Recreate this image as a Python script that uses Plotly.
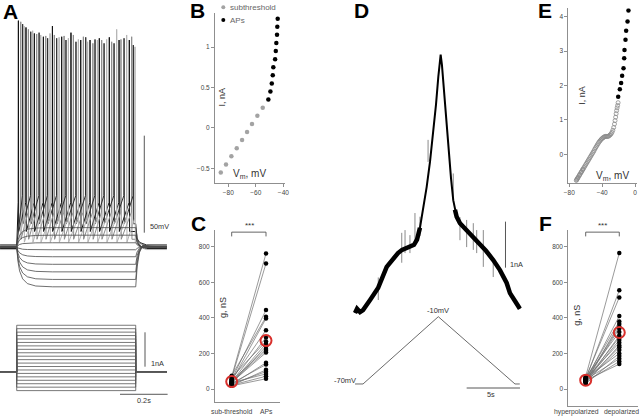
import plotly.graph_objects as go

W, H = 640, 417
FONT = "Liberation Sans, Arial, sans-serif"

# ======================= DATA =======================
# Panel B: steady-state I-V from current steps
B_sub_V = [-85.5, -81.7, -77.8, -73.9, -70.0, -66.4, -62.8, -58.9, -55.0]
B_sub_I = [-0.55, -0.45, -0.35, -0.25, -0.15, -0.05, 0.05, 0.15, 0.25]
B_ap_V = [-50.9, -49.4, -48.4, -47.7, -47.3, -46.0, -45.5, -45.1, -44.6, -44.4, -44.1]
B_ap_I = [0.35, 0.45, 0.55, 0.65, 0.75, 0.85, 0.95, 1.05, 1.15, 1.25, 1.35]

# Panel A: voltage responses (ms, mV) and current steps (nA)
A_rest = -65.0
A_t_start, A_step_on, A_step_off, A_t_end = -70, 0, 500, 631
A_charge_t = [-70, 0, 5, 12, 25, 45, 80, 150, 500, 506, 515, 530, 560, 631]
A_charge_frac = [0, 0, 0.35, 0.6, 0.8, 0.92, 0.98, 1.0, 1.0, 0.5, 0.15, -0.05, -0.02, 0]
A_spike_t = [7, 17, 25, 31, 39, 49, 59, 67, 74, 84, 94, 101, 112, 122, 130, 140, 150, 158,
             168, 178, 189, 199, 207, 217, 228, 238, 249, 259, 269, 280, 290, 298, 308, 320,
             329, 339, 347, 357, 367, 378, 389, 399, 409, 420, 430, 438, 451, 462, 473, 483,
             490, 497]
A_spike_peak = [51.7, 51.1, 49.9, 48.9, 48.2, 47.2, 46.0, 46.5, 45.1, 44.8, 45.5, 44.3, 43.4,
                43.8, 42.6, 45.1, 48.9, 44.3, 42.6, 43.1, 43.4, 43.8, 41.7, 42.6, 45.5, 44.3,
                40.8, 42.0, 41.7, 43.4, 43.1, 40.8, 41.7, 40.0, 42.0, 41.7, 42.6, 41.7, 40.0,
                42.0, 43.1, 40.8, 40.0, 47.2, 41.7, 42.0, 42.6, 44.3, 41.7, 43.4, 39.1, 38.2]
A_group_rest = [-65.8, -64.4, -63.9, -66.3]
A_group_thr = [-42.0, -47.0, -38.5, -50.0]
A_group_ahp = [-57.0, -61.0, -53.0, -62.5]
A_group_color = ["#111111", "#8c8c8c", "#2e2e2e", "#b4b4b4"]

# Panel C: conductance (nS), paired cells
C_sub = [70, 62, 55, 75, 45, 52, 40, 66, 35, 30, 48, 42, 38, 25, 32, 20, 28, 36, 22, 18]
C_ap = [762, 706, 444, 406, 397, 331, 290, 268, 255, 240, 225, 215, 205, 148, 138, 108, 98, 85, 72, 58]
C_labels = ["sub-threshold", "APs"]

# Panel D: ramp current (s, nA) and ramp command (s, mV)
D_t = [-0.75, -0.56, -0.28, 0.0, 0.66, 1.41, 2.22, 2.81, 3.28, 3.66, 4.03, 4.40, 4.78, 5.06,
       5.34, 5.62, 5.97, 6.28, 6.59, 6.84, 7.06, 7.28, 7.40, 7.53, 7.78, 7.99, 8.25, 8.46,
       8.62, 8.78, 9.09, 9.72, 10.31, 10.97, 11.53, 12.21, 12.84, 13.47, 13.78, 14.25, 14.71]
D_I = [-0.72, -0.63, -0.70, -0.66, -0.44, -0.18, 0.28, 0.47, 0.58, 0.65, 0.69, 0.71, 0.76, 0.87,
       1.13, 1.52, 2.02, 2.56, 3.19, 3.80, 4.41, 4.89, 4.67, 4.28, 3.47, 2.82, 2.21, 1.73,
       1.52, 1.37, 1.23, 1.08, 0.95, 0.76, 0.63, 0.43, 0.21, -0.07, -0.29, -0.46, -0.63]
D_glitch_t = [1.43, 3.63, 3.94, 4.40, 4.87, 5.34, 6.10, 8.46, 9.09, 9.72, 10.34, 10.66, 11.28, 12.21]
D_glitch_lo = [-0.44, 0.37, 0.58, 0.58, 0.80, 0.95, 2.56, 1.73, 0.86, 0.71, 0.65, 0.58, 0.28, 0.06]
D_glitch_hi = [0.05, 1.02, 1.08, 0.97, 1.45, 1.37, 3.04, 2.31, 1.36, 1.30, 1.23, 1.08, 1.08, 0.37]
D_ramp_t = [-0.75, 0.0, 7.06, 14.25, 14.70]
D_ramp_V = [-70, -70, -10, -70, -70]

# Panel E: ramp I-V
E_sub_V = [-71.5, -71, -70.5, -70, -69.5, -69, -68, -67.5, -67, -66, -65.5, -65, -64, -63.5, -63,
           -62, -61, -60, -59, -58, -57, -56, -55, -54, -53, -52, -51, -50, -49, -48, -47, -46,
           -45, -44, -43, -42, -41, -40, -39, -38, -37, -36, -35, -34, -33, -32, -31, -30, -29,
           -28, -27, -26, -25, -24.3, -23.6, -23, -22.4, -21.8, -21.2, -20.6]
E_sub_I = [-0.76, -0.74, -0.72, -0.70, -0.68, -0.66, -0.62, -0.60, -0.58, -0.54, -0.52, -0.50,
           -0.46, -0.44, -0.42, -0.38, -0.34, -0.30, -0.26, -0.22, -0.18, -0.14, -0.10, -0.06,
           -0.02, 0.02, 0.06, 0.10, 0.15, 0.19, 0.23, 0.27, 0.31, 0.35, 0.38, 0.41, 0.44, 0.46,
           0.48, 0.50, 0.51, 0.52, 0.52, 0.52, 0.52, 0.53, 0.55, 0.57, 0.60, 0.64, 0.70, 0.78,
           0.88, 0.98, 1.08, 1.18, 1.27, 1.35, 1.42, 1.50]
E_ap_V = [-20.5, -18.5, -16.9, -15.7, -14.0, -13.2, -12.8, -11.6, -10.8, -9.1, -8.0]
E_ap_I = [1.67, 1.89, 2.07, 2.28, 2.50, 2.79, 3.03, 3.33, 3.59, 3.86, 4.18]

# Panel F: conductance (nS), paired cells
F_hyp = [70, 55, 62, 48, 58, 40, 52, 45, 66, 38, 50, 44, 56, 35, 47, 42, 60, 30, 53, 39, 49]
F_dep = [765, 555, 515, 410, 380, 365, 350, 340, 320, 300, 290, 275, 260, 245, 235, 220, 200,
         185, 170, 155, 140]
F_labels = ["hyperpolarized", "depolarized"]

# ======================= FIGURE =======================
fig = go.Figure()


def dom_x(a, b):
    return [a / W, b / W]


def dom_y(top, bottom):
    return [1 - bottom / H, 1 - top / H]


AXSTYLE = dict(showline=True, linecolor="#8f8f8f", linewidth=1, ticks="outside", ticklen=3,
               tickcolor="#8f8f8f", tickfont=dict(size=6.5, color="#444", family=FONT),
               showgrid=False, zeroline=False, mirror=False, fixedrange=True,
               automargin=False, tickangle=0)
HIDDEN = dict(visible=False, showgrid=False, zeroline=False, fixedrange=True, automargin=False)

# ---- Panel B (x, y)
fig.add_trace(go.Scatter(x=B_sub_V, y=B_sub_I, mode="markers", xaxis="x", yaxis="y",
                         marker=dict(color="#a3a3a3", size=4.5)))
fig.add_trace(go.Scatter(x=B_ap_V, y=B_ap_I, mode="markers", xaxis="x", yaxis="y",
                         marker=dict(color="#000", size=4.5)))


# ---- Paired panels (C: x2/y2, F: x8/y8)
def paired(a, b, xa, ya):
    xs, ys = [], []
    for va, vb in zip(a, b):
        xs += [0, 1, None]
        ys += [va, vb, None]
    fig.add_trace(go.Scatter(x=xs, y=ys, mode="lines", xaxis=xa, yaxis=ya,
                             line=dict(color="#6e6e6e", width=0.7)))
    fig.add_trace(go.Scatter(x=[0] * len(a) + [1] * len(b), y=list(a) + list(b), mode="markers",
                             xaxis=xa, yaxis=ya, marker=dict(color="#000", size=4.5)))
    fig.add_trace(go.Scatter(x=[0, 1], y=[sum(a) / len(a), sum(b) / len(b)], mode="markers",
                             xaxis=xa, yaxis=ya,
                             marker=dict(symbol="circle-open", size=11, color="#d8302c",
                                         line=dict(width=2, color="#d8302c"))))


paired(C_sub, C_ap, "x2", "y2")
paired(F_hyp, F_dep, "x8", "y8")

# ---- Panel A voltage (x3/y3)
for g in range(4):
    rest, thr, ahp = A_group_rest[g], A_group_thr[g], A_group_ahp[g]
    xs = [A_t_start, A_step_on]
    ys = [rest, rest]
    for k in range(g, len(A_spike_t), 4):
        ts = A_spike_t[k]
        xs += [ts - 0.9, ts, ts + 1.2]
        ys += [thr, A_spike_peak[k], ahp]
    xs += [A_step_off, A_step_off + 6, A_step_off + 18, A_step_off + 45, A_t_end]
    ys += [ahp, rest + 3, rest + 1.2, rest, rest]
    fig.add_trace(go.Scatter(x=xs, y=ys, mode="lines", xaxis="x3", yaxis="y3",
                             line=dict(color=A_group_color[g], width=1)))

for v in B_sub_V:
    ys = [A_rest + f * (v - A_rest) for f in A_charge_frac]
    fig.add_trace(go.Scatter(x=A_charge_t, y=ys, mode="lines", xaxis="x3", yaxis="y3",
                             line=dict(color="#4a4a4a", width=0.8)))

# ---- Panel A current (x4/y4)
for i in B_sub_I + B_ap_I:
    fig.add_trace(go.Scatter(x=[A_t_start, A_step_on, A_step_on, A_step_off, A_step_off, A_t_end],
                             y=[0, 0, i, i, 0, 0], mode="lines", xaxis="x4", yaxis="y4",
                             line=dict(color="#555", width=0.8)))

# ---- Panel D current (x5/y5) and ramp (x6/y6)
gx, gy = [], []
for t, lo, hi in zip(D_glitch_t, D_glitch_lo, D_glitch_hi):
    gx += [t, t, None]
    gy += [lo, hi, None]
fig.add_trace(go.Scatter(x=gx, y=gy, mode="lines", xaxis="x5", yaxis="y5",
                         line=dict(color="#8a8a8a", width=1)))
fig.add_trace(go.Scatter(x=D_t, y=D_I, mode="lines", xaxis="x5", yaxis="y5",
                         line=dict(color="#000", width=2)))
nx = [t if (t <= 5.4 or t >= 8.6) else None for t in D_t]
fig.add_trace(go.Scatter(x=nx, y=D_I, mode="lines", xaxis="x5", yaxis="y5",
                         line=dict(color="#000", width=4.5)))
fig.add_trace(go.Scatter(x=D_ramp_t, y=D_ramp_V, mode="lines", xaxis="x6", yaxis="y6",
                         line=dict(color="#444", width=0.8)))

# ---- Panel E (x7/y7)
fig.add_trace(go.Scatter(x=E_sub_V, y=E_sub_I, mode="markers", xaxis="x7", yaxis="y7",
                         marker=dict(symbol="circle-open", size=4, color="#8c8c8c",
                                     line=dict(width=0.8, color="#8c8c8c"))))
fig.add_trace(go.Scatter(x=E_ap_V, y=E_ap_I, mode="markers", xaxis="x7", yaxis="y7",
                         marker=dict(color="#000", size=4.5)))

# ======================= LAYOUT =======================
layout = dict(
    template="none",
    width=W, height=H, margin=dict(l=0, r=0, t=0, b=0, pad=0), autosize=False,
    paper_bgcolor="white", plot_bgcolor="rgba(0,0,0,0)", showlegend=False,
    font=dict(family=FONT, color="#333"),
    # B
    xaxis=dict(AXSTYLE, domain=dom_x(215, 285), range=[-89.7, -38.8], anchor="y",
               tickvals=[-80, -60, -40]),
    yaxis=dict(AXSTYLE, domain=dom_y(13, 183), range=[-0.68, 1.42], anchor="x",
               tickvals=[-0.5, 0, 0.5, 1]),
    # C
    xaxis2=dict(AXSTYLE, domain=dom_x(215, 280), range=[-0.487, 1.408], anchor="y2",
                tickvals=[0, 1], showticklabels=False, ticks=""),
    yaxis2=dict(AXSTYLE, domain=dom_y(230, 401.7), range=[-71, 894], anchor="x2",
                tickvals=[0, 200, 400, 600, 800]),
    # A voltage / current
    xaxis3=dict(HIDDEN, domain=dom_x(0, 170), range=[-70.2, 644], anchor="y3"),
    yaxis3=dict(HIDDEN, domain=dom_y(15, 300), range=[-92.3, 54.6], anchor="x3"),
    xaxis4=dict(HIDDEN, domain=dom_x(0, 170), range=[-70.2, 644], anchor="y4"),
    yaxis4=dict(HIDDEN, domain=dom_y(315, 400), range=[-0.823, 1.648], anchor="x4"),
    # D current / ramp
    xaxis5=dict(HIDDEN, domain=dom_x(340, 525), range=[-2.16, 15.19], anchor="y5"),
    yaxis5=dict(HIDDEN, domain=dom_y(40, 320), range=[-0.874, 5.21], anchor="x5"),
    xaxis6=dict(HIDDEN, domain=dom_x(340, 525), range=[-2.16, 15.19], anchor="y6"),
    yaxis6=dict(HIDDEN, domain=dom_y(300, 400), range=[-84.3, 4.9], anchor="x6"),
    # E
    xaxis7=dict(AXSTYLE, domain=dom_x(568.3, 637), range=[-81.2, 2.4], anchor="y7",
                tickvals=[-80, -40, 0]),
    yaxis7=dict(AXSTYLE, domain=dom_y(8.3, 183.3), range=[-0.843, 4.244], anchor="x7",
                tickvals=[0, 1, 2, 3, 4]),
    # F
    xaxis8=dict(AXSTYLE, domain=dom_x(568.3, 638), range=[-0.518, 1.557], anchor="y8",
                tickvals=[0, 1], showticklabels=False, ticks=""),
    yaxis8=dict(AXSTYLE, domain=dom_y(230, 406), range=[-95.5, 894], anchor="x8",
                tickvals=[0, 200, 400, 600, 800]),
)
fig.update_layout(**layout)

# ---- shapes: scale bars and significance brackets
LN = dict(color="#444", width=0.9)
shapes = [
    # A: 50 mV, 1 nA, 0.2 s
    dict(type="line", xref="x3", yref="y3", x0=536, x1=536, y0=-57.6, y1=-7.6, line=LN),
    dict(type="line", xref="x4", yref="y4", x0=539, x1=539, y0=0.145, y1=1.145, line=LN),
    dict(type="line", xref="x4", yref="y4", x0=434, x1=634, y0=-0.657, y1=-0.657, line=LN),
    # D: 1 nA, 5 s
    dict(type="line", xref="x5", yref="y5", x0=13.36, x1=13.36, y0=0.263, y1=1.263, line=LN),
    dict(type="line", xref="x6", yref="y6", x0=9.72, x1=14.72, y0=-73.6, y1=-73.6, line=LN),
]
for xa, ya in (("x2", "y2"), ("x8", "y8")):
    shapes += [
        dict(type="line", xref=xa, yref=ya, x0=0, x1=1, y0=882, y1=882, line=dict(color="#555", width=0.9)),
        dict(type="line", xref=xa, yref=ya, x0=0, x1=0, y0=882, y1=858, line=dict(color="#555", width=0.9)),
        dict(type="line", xref=xa, yref=ya, x0=1, x1=1, y0=882, y1=858, line=dict(color="#555", width=0.9)),
    ]
# legend markers for B
shapes += [
    dict(type="circle", xref="paper", yref="paper", x0=221.3 / W, x1=225.3 / W,
         y0=1 - 9.3 / H, y1=1 - 5.3 / H, fillcolor="#a3a3a3", line=dict(width=0)),
    dict(type="circle", xref="paper", yref="paper", x0=221.3 / W, x1=225.3 / W,
         y0=1 - 22 / H, y1=1 - 18 / H, fillcolor="#000", line=dict(width=0)),
]
fig.update_layout(shapes=shapes)


def note(text, x, y, size=7, xanchor="center", yanchor="middle", angle=0, bold=False, color="#333"):
    fig.add_annotation(text=f"<b>{text}</b>" if bold else text, x=x / W, y=1 - y / H,
                       xref="paper", yref="paper", showarrow=False, xanchor=xanchor,
                       yanchor=yanchor, textangle=angle,
                       font=dict(size=size, color=color, family=FONT))


# panel letters
for lab, x, y in (("A", 10, 11.5), ("B", 197, 11), ("C", 198, 223), ("D", 361, 11),
                  ("E", 545, 11), ("F", 545, 223)):
    note(lab, x, y, size=21, bold=True, color="#000")

# B
note("subthreshold", 227.7, 7.3, size=8, xanchor="left", color="#666")
note("APs", 227.7, 20, size=8, xanchor="left", color="#666")
note("I, nA", 221.7, 96.7, size=9, angle=-90)
note("V<sub>m</sub>, mV", 249, 174, size=10)
# C
note("g, nS", 223, 308, size=9, angle=-90)
note("***", 249, 226, size=8)
note(C_labels[0], 231.7, 411.5, size=6.8, color="#444")
note(C_labels[1], 266, 411.5, size=6.8, color="#444")
# E
note("I, nA", 581.7, 95, size=9, angle=-90)
note("V<sub>m</sub>, mV", 612, 176, size=10)
# F
note("g, nS", 576.7, 315, size=9, angle=-90)
note("***", 602.5, 226, size=8)
note(F_labels[0], 576.7, 411.5, size=6.8, color="#444")
note(F_labels[1], 621.5, 411.5, size=6.8, color="#444")
# A scale labels
note("50mV", 147.5, 226.7, size=7.3, xanchor="left")
note("1nA", 148.5, 363, size=7.3, xanchor="left")
note("0.2s", 143.5, 400.5, size=7.3)
# D labels
note("-10mV", 438, 310, size=7.5)
note("-70mV", 358, 380, size=7.5, xanchor="right")
note("1nA", 507.5, 264, size=7.3, xanchor="left")
note("5s", 491, 394.5, size=7.3)

fig.write_html(
    "out.html",
    config={"displayModeBar": False},
    post_script="document.body.style.margin='0';document.body.style.padding='0';"
                "document.documentElement.style.overflow='hidden';",
)
